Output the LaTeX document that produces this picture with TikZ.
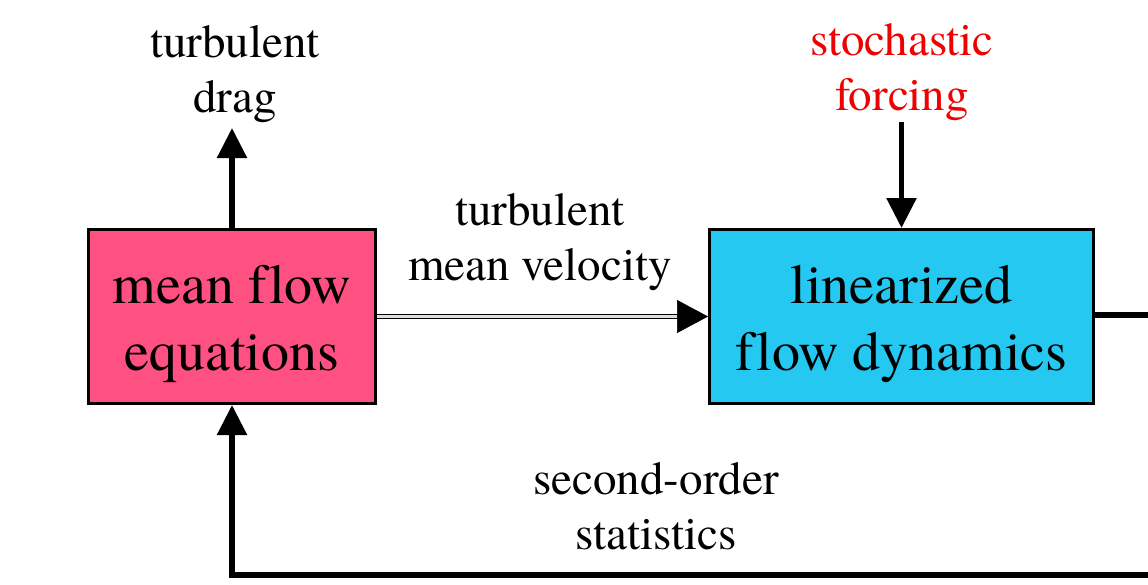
\documentclass[tikz,border=0pt]{standalone}
\usepackage{fontspec}
\setmainfont[Ligatures=NoCommon]{TeX Gyre Termes}
\usetikzlibrary{arrows.meta,shadows}
\definecolor{boxpink}{RGB}{255,80,130}
\definecolor{boxcyan}{RGB}{37,200,240}
\definecolor{forcered}{RGB}{240,0,0}
\newcommand{\bxtop}{\rule{0pt}{54pt}}
\newcommand{\bxbot}{\rule[-12pt]{0pt}{12pt}}
\newcommand{\lbtop}{\rule{0pt}{36pt}}
\newcommand{\lbbot}{\rule[-11pt]{0pt}{11pt}}
\begin{document}
\begin{tikzpicture}[x=1pt,y=-1pt,
  blockbox/.style={draw=black, line width=3pt, minimum height=174pt,
    align=center, inner sep=0pt, font=\fontsize{56}{67}\selectfont,
    drop shadow={shadow xshift=1.5pt, shadow yshift=-1.5pt, opacity=0.3, fill=black}},
  lbl/.style={align=center, inner sep=0pt, font=\fontsize{47}{55}\selectfont},
  flow/.style={line width=5.5pt, line join=miter, -{Triangle[length=30pt,width=29pt]}},
  dbl/.style={line width=1.4pt, double=white!88!black, double distance=2.6pt},
  dbltip/.style={line width=0.5pt, -{Triangle[length=31pt,width=33pt]}}
]
\useasboundingbox (0,0) rectangle (1148,584);
\clip (0,0) rectangle (1148,584);

\node[blockbox, fill=boxpink, minimum width=287pt] (mean) at (232,316.5) {\bxtop mean flow\\equations\bxbot};
\node[blockbox, fill=boxcyan, minimum width=384pt] (lin) at (901.5,316.5) {\bxtop linearized\\flow dynamics\bxbot};

\node[lbl] (drag) at (235,72) {\lbtop turbulent\\drag\lbbot};
\node[lbl, text=forcered] (force) at (902,70) {\lbtop stochastic\\forcing\lbbot};
\node[lbl] (vel) at (540,240) {\lbtop turbulent\\mean velocity\lbbot};
\node[lbl] (stats) at (656,509) {\lbtop second-order\\statistics\lbbot};

\coordinate (dragend) at (232,128);
\coordinate (forcestart) at (901.5,122);
\coordinate (rc) at (1175,315);
\coordinate (bc) at (1175,575);
\coordinate (lc) at (232,575);

\draw[flow] (mean.north) -- (dragend);
\draw[flow] (forcestart) -- (lin.north);
\draw[dbl, shorten >=29pt] (mean.east) -- (lin.west);
\draw[dbltip] ([xshift=-31pt]lin.west) -- (lin.west);
\draw[flow] (lin.east |- rc) -- (rc) -- (bc) -- (lc) -- (mean.south);
\end{tikzpicture}
\end{document}
